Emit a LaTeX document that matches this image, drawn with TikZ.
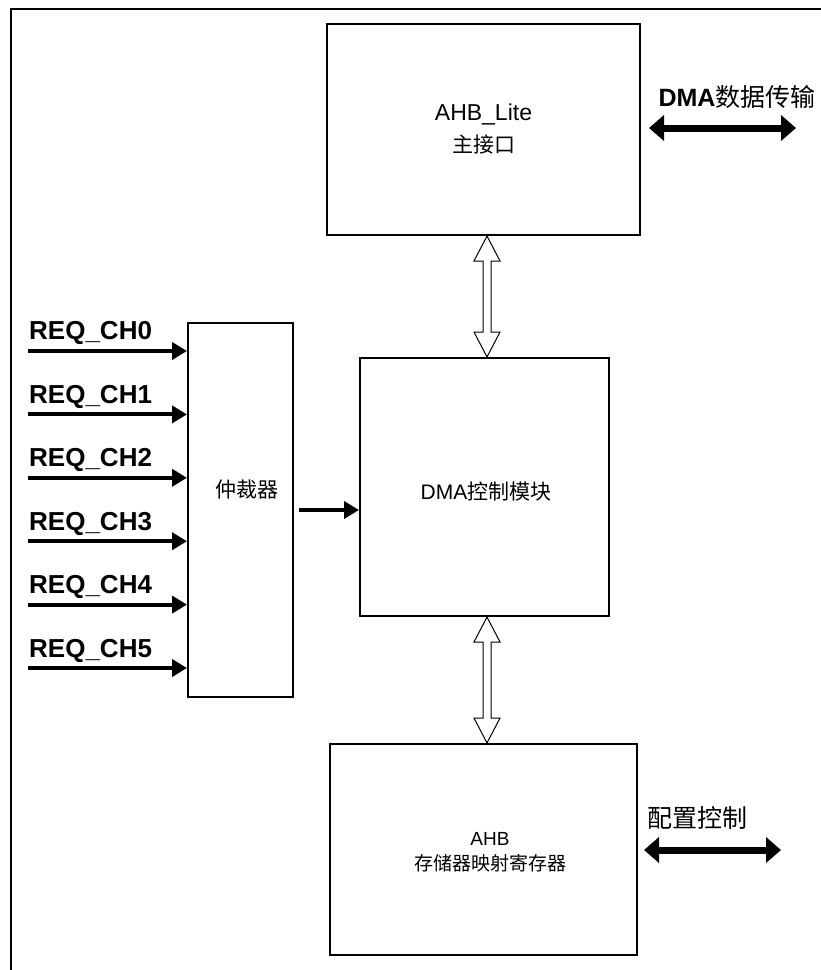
\documentclass[tikz,border=0pt]{standalone}
\usepackage{fontspec}
\setmainfont{Liberation Sans}
\newfontfamily\cjk{Noto Sans CJK SC}
\usetikzlibrary{arrows.meta,calc}
\begin{document}
\begin{tikzpicture}[x=1pt,y=-1pt,
  box/.style={draw,line width=2pt,inner sep=0pt,align=center},
  req/.style={line width=4pt,-{Triangle[length=15pt,width=17pt]}},
  bus/.style={line width=7pt,{Triangle[length=15pt,width=25pt]}-{Triangle[length=15pt,width=25pt]}},
  lbl/.style={font=\fontsize{26}{30}\selectfont\bfseries,anchor=west,inner sep=0pt},
  txt/.style={font=\fontsize{21}{32}\selectfont,align=center,inner sep=0pt},
  small/.style={font=\fontsize{19}{25}\selectfont,align=center,inner sep=0pt},
  big/.style={font=\fontsize{25}{30}\selectfont,inner sep=0pt},
  hollow/.style={draw,line width=1pt,fill=white}]
\useasboundingbox (0,0) rectangle (821,970);
\draw[line width=2pt] (821,9) -- (11,9) -- (11,970);
% boxes
\node[box,txt,minimum width=313,minimum height=211] (ahbl) at (483.5,129.5) {{\fontsize{23}{32}\selectfont AHB\_Lite}\\{\cjk 主接口}};
\node[box,minimum width=105,minimum height=374] (arb) at (240.5,510) {};
\node[txt] (arbt) at (247,490) {\cjk 仲裁器};
\node[box,txt,minimum width=249,minimum height=258] (dma) at (484.5,487) {};
\node[txt] (dmat) at (486,492) {DMA{\cjk 控制模块}};
\node[box,minimum width=307,minimum height=211] (ahb) at (483.5,849.5) {};
\node[small] (ahbt) at (490,852) {AHB\\{\cjk 存储器映射寄存器}};
% hollow double arrows
\coordinate (h1) at ($(ahbl.south)+(3.5,0)$);
\coordinate (h2) at ($(dma.north)+(2.5,0)$);
\draw[hollow] (h1) -- ++(13,25) -- ++(-9,0) -- ($(h2)+(4,-25)$) -- ++(9,0) -- (h2)
  -- ++(-13,-25) -- ++(9,0) -- ($(h1)+(-4,25)$) -- ++(-9,0) -- cycle;
\coordinate (h3) at ($(dma.south)+(2.5,0)$);
\coordinate (h4) at ($(ahb.north)+(3.5,0)$);
\draw[hollow] (h3) -- ++(13,25) -- ++(-9,0) -- ($(h4)+(4,-25)$) -- ++(9,0) -- (h4)
  -- ++(-13,-25) -- ++(9,0) -- ($(h3)+(-4,25)$) -- ++(-9,0) -- cycle;
% bus arrows
\coordinate (d1) at ($(ahbl.east)+(8,-1.5)$);
\coordinate (d2) at ($(ahbl.east)+(155,-1.5)$);
\draw[bus] (d1) -- (d2);
\node[big] (dlab) at (737,97) {\bfseries DMA{\cjk\mdseries 数据传输}};
\coordinate (c1) at ($(ahb.east)+(6,0.5)$);
\coordinate (c2) at ($(ahb.east)+(143,0.5)$);
\draw[bus] (c1) -- (c2);
\node[big] (clab) at (697,818) {\cjk 配置控制};
% request lines
\foreach \i in {0,...,5}{
  \coordinate (r\i) at (28,351+63.4*\i);
  \draw[req] (r\i) -- (r\i -| arb.west);
  \node[lbl] (l\i) at (29,333+63.6*\i) {REQ\_CH\i};
}
\coordinate (a0) at ($(arb.east)+(5,0)$);
\draw[req] (a0) -- (arb.east -| dma.west);
\end{tikzpicture}
\end{document}
